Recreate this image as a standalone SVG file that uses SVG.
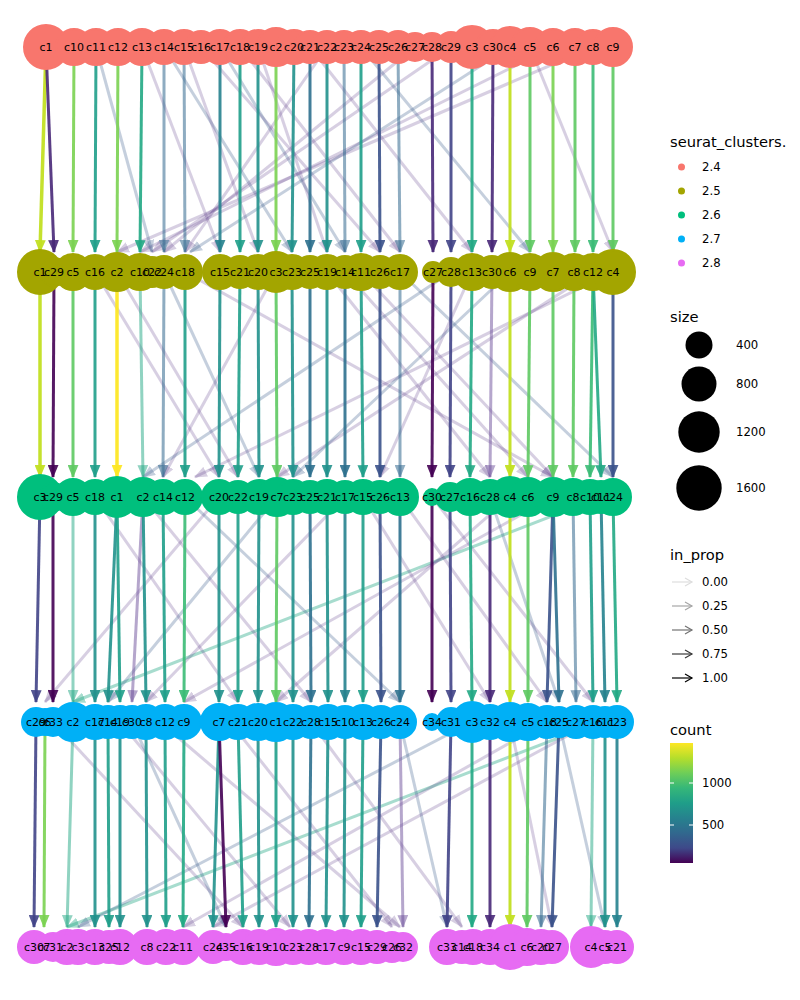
<svg xmlns="http://www.w3.org/2000/svg" width="800" height="1000" viewBox="0 0 800 1000">
<defs>
<style>
.e{fill:none;stroke-width:3}
.k1{stroke:#FDE725;stroke-opacity:.95;marker-end:url(#a1)}
.k2{stroke:#C2DF23;stroke-opacity:.95;marker-end:url(#a2)}
.k3{stroke:#7AD151;stroke-opacity:.9;marker-end:url(#a3)}
.k4{stroke:#5EC962;stroke-opacity:.9;marker-end:url(#a4)}
.k5{stroke:#3BBB75;stroke-opacity:.9;marker-end:url(#a5)}
.k6{stroke:#22A884;stroke-opacity:.9;marker-end:url(#a6)}
.k7{stroke:#1F9E89;stroke-opacity:.9;marker-end:url(#a7)}
.k8{stroke:#21918C;stroke-opacity:.9;marker-end:url(#a8)}
.k9{stroke:#26828E;stroke-opacity:.9;marker-end:url(#a9)}
.k10{stroke:#2D708E;stroke-opacity:.9;marker-end:url(#a10)}
.k11{stroke:#3B528B;stroke-opacity:.9;marker-end:url(#a11)}
.k12{stroke:#414487;stroke-opacity:.9;marker-end:url(#a12)}
.k13{stroke:#482878;stroke-opacity:.9;marker-end:url(#a13)}
.k14{stroke:#440154;stroke-opacity:.9;marker-end:url(#a14)}
.s1{stroke:#31688E;stroke-opacity:.55;marker-end:url(#b1)}
.s2{stroke:#6B4E99;stroke-opacity:.5;marker-end:url(#b2)}
.s3{stroke:#22A884;stroke-opacity:.5;marker-end:url(#b3)}
.f1{stroke:#5E3F8C;stroke-opacity:.25;marker-end:url(#c1)}
.f2{stroke:#3F5F90;stroke-opacity:.3;marker-end:url(#c2)}
.f3{stroke:#22A884;stroke-opacity:.4;marker-end:url(#c3)}
.r1{fill:#F8766D;stroke:#F8766D;stroke-width:2}
.r2{fill:#A3A500;stroke:#A3A500;stroke-width:2}
.r3{fill:#00BF7D;stroke:#00BF7D;stroke-width:2}
.r4{fill:#00B0F6;stroke:#00B0F6;stroke-width:2}
.r5{fill:#E76BF3;stroke:#E76BF3;stroke-width:2}
.lb{font-family:"DejaVu Sans","Liberation Sans",sans-serif;font-size:11px;fill:#000;text-anchor:middle}
.lt{font-family:"DejaVu Sans","Liberation Sans",sans-serif;font-size:14.7px;fill:#000}
.ll{font-family:"DejaVu Sans","Liberation Sans",sans-serif;font-size:11.7px;fill:#000}
.la{fill:none;stroke-width:1.2}
</style>
<marker id="a1" viewBox="0 0 12 10" refX="11" refY="5" markerWidth="13" markerHeight="11" markerUnits="userSpaceOnUse" orient="auto"><path d="M0,0L12,5L0,10z" fill="#FDE725" fill-opacity=".95"/></marker>
<marker id="a2" viewBox="0 0 12 10" refX="11" refY="5" markerWidth="13" markerHeight="11" markerUnits="userSpaceOnUse" orient="auto"><path d="M0,0L12,5L0,10z" fill="#C2DF23" fill-opacity=".95"/></marker>
<marker id="a3" viewBox="0 0 12 10" refX="11" refY="5" markerWidth="13" markerHeight="11" markerUnits="userSpaceOnUse" orient="auto"><path d="M0,0L12,5L0,10z" fill="#7AD151" fill-opacity=".9"/></marker>
<marker id="a4" viewBox="0 0 12 10" refX="11" refY="5" markerWidth="13" markerHeight="11" markerUnits="userSpaceOnUse" orient="auto"><path d="M0,0L12,5L0,10z" fill="#5EC962" fill-opacity=".9"/></marker>
<marker id="a5" viewBox="0 0 12 10" refX="11" refY="5" markerWidth="13" markerHeight="11" markerUnits="userSpaceOnUse" orient="auto"><path d="M0,0L12,5L0,10z" fill="#3BBB75" fill-opacity=".9"/></marker>
<marker id="a6" viewBox="0 0 12 10" refX="11" refY="5" markerWidth="13" markerHeight="11" markerUnits="userSpaceOnUse" orient="auto"><path d="M0,0L12,5L0,10z" fill="#22A884" fill-opacity=".9"/></marker>
<marker id="a7" viewBox="0 0 12 10" refX="11" refY="5" markerWidth="13" markerHeight="11" markerUnits="userSpaceOnUse" orient="auto"><path d="M0,0L12,5L0,10z" fill="#1F9E89" fill-opacity=".9"/></marker>
<marker id="a8" viewBox="0 0 12 10" refX="11" refY="5" markerWidth="13" markerHeight="11" markerUnits="userSpaceOnUse" orient="auto"><path d="M0,0L12,5L0,10z" fill="#21918C" fill-opacity=".9"/></marker>
<marker id="a9" viewBox="0 0 12 10" refX="11" refY="5" markerWidth="13" markerHeight="11" markerUnits="userSpaceOnUse" orient="auto"><path d="M0,0L12,5L0,10z" fill="#26828E" fill-opacity=".9"/></marker>
<marker id="a10" viewBox="0 0 12 10" refX="11" refY="5" markerWidth="13" markerHeight="11" markerUnits="userSpaceOnUse" orient="auto"><path d="M0,0L12,5L0,10z" fill="#2D708E" fill-opacity=".9"/></marker>
<marker id="a11" viewBox="0 0 12 10" refX="11" refY="5" markerWidth="13" markerHeight="11" markerUnits="userSpaceOnUse" orient="auto"><path d="M0,0L12,5L0,10z" fill="#3B528B" fill-opacity=".9"/></marker>
<marker id="a12" viewBox="0 0 12 10" refX="11" refY="5" markerWidth="13" markerHeight="11" markerUnits="userSpaceOnUse" orient="auto"><path d="M0,0L12,5L0,10z" fill="#414487" fill-opacity=".9"/></marker>
<marker id="a13" viewBox="0 0 12 10" refX="11" refY="5" markerWidth="13" markerHeight="11" markerUnits="userSpaceOnUse" orient="auto"><path d="M0,0L12,5L0,10z" fill="#482878" fill-opacity=".9"/></marker>
<marker id="a14" viewBox="0 0 12 10" refX="11" refY="5" markerWidth="13" markerHeight="11" markerUnits="userSpaceOnUse" orient="auto"><path d="M0,0L12,5L0,10z" fill="#440154" fill-opacity=".9"/></marker>
<marker id="b1" viewBox="0 0 12 10" refX="11" refY="5" markerWidth="13" markerHeight="11" markerUnits="userSpaceOnUse" orient="auto"><path d="M0,0L12,5L0,10z" fill="#31688E" fill-opacity=".55"/></marker>
<marker id="b2" viewBox="0 0 12 10" refX="11" refY="5" markerWidth="13" markerHeight="11" markerUnits="userSpaceOnUse" orient="auto"><path d="M0,0L12,5L0,10z" fill="#6B4E99" fill-opacity=".5"/></marker>
<marker id="b3" viewBox="0 0 12 10" refX="11" refY="5" markerWidth="13" markerHeight="11" markerUnits="userSpaceOnUse" orient="auto"><path d="M0,0L12,5L0,10z" fill="#22A884" fill-opacity=".5"/></marker>
<marker id="c1" viewBox="0 0 12 10" refX="11" refY="5" markerWidth="13" markerHeight="11" markerUnits="userSpaceOnUse" orient="auto"><path d="M0,0L12,5L0,10z" fill="#5E3F8C" fill-opacity=".25"/></marker>
<marker id="c2" viewBox="0 0 12 10" refX="11" refY="5" markerWidth="13" markerHeight="11" markerUnits="userSpaceOnUse" orient="auto"><path d="M0,0L12,5L0,10z" fill="#3F5F90" fill-opacity=".3"/></marker>
<marker id="c3" viewBox="0 0 12 10" refX="11" refY="5" markerWidth="13" markerHeight="11" markerUnits="userSpaceOnUse" orient="auto"><path d="M0,0L12,5L0,10z" fill="#22A884" fill-opacity=".4"/></marker>
<linearGradient id="vir" x1="0" y1="0" x2="0" y2="1">
<stop offset="0" stop-color="#FDE725"/><stop offset=".125" stop-color="#B5DE2B"/><stop offset=".25" stop-color="#6ECE58"/><stop offset=".375" stop-color="#35B779"/><stop offset=".5" stop-color="#1F9E89"/><stop offset=".625" stop-color="#26828E"/><stop offset=".75" stop-color="#31688E"/><stop offset=".875" stop-color="#3E4989"/><stop offset="1" stop-color="#440154"/>
</linearGradient>
</defs>
<rect width="800" height="1000" fill="#fff"/>
<g id="connectors">
<g id="band1">
<line class="e f1" x1="201" y1="47" x2="380" y2="252"/><line class="e f2" x1="164" y1="47" x2="292" y2="252"/><line class="e f1" x1="184" y1="47" x2="258" y2="252"/><line class="e f2" x1="220" y1="47" x2="345" y2="252"/><line class="e f1" x1="240" y1="47" x2="400" y2="252"/><line class="e f1" x1="327" y1="47" x2="185" y2="252"/><line class="e f1" x1="415" y1="47" x2="164" y2="252"/><line class="e f1" x1="451" y1="47" x2="152" y2="252"/><line class="e f2" x1="510" y1="47" x2="190" y2="252"/><line class="e f1" x1="553" y1="47" x2="140" y2="252"/><line class="e f1" x1="593" y1="47" x2="117" y2="252"/><line class="e f1" x1="310" y1="47" x2="472" y2="252"/><line class="e f2" x1="361" y1="47" x2="530" y2="252"/><line class="e f1" x1="530" y1="47" x2="613" y2="252"/><line class="e f1" x1="142" y1="47" x2="220" y2="252"/><line class="e f2" x1="96" y1="47" x2="152" y2="252"/><line class="e f1" x1="258" y1="47" x2="327" y2="252"/>
<line class="e k2" style="stroke-width:3.5" x1="46" y1="47" x2="40" y2="252"/><line class="e k13" x1="46" y1="47" x2="54" y2="252"/><line class="e k3" x1="74" y1="47" x2="73" y2="252"/><line class="e k7" x1="96" y1="47" x2="95" y2="252"/><line class="e k3" x1="118" y1="47" x2="117" y2="252"/><line class="e k6" x1="142" y1="47" x2="140" y2="252"/><line class="e s1" x1="164" y1="47" x2="164" y2="252"/><line class="e s1" x1="184" y1="47" x2="185" y2="252"/><line class="e k9" x1="220" y1="47" x2="220" y2="252"/><line class="e k7" x1="240" y1="47" x2="240" y2="252"/><line class="e k8" x1="258" y1="47" x2="258" y2="252"/><line class="e k3" x1="276" y1="47" x2="276" y2="252"/><line class="e k8" x1="294" y1="47" x2="292" y2="252"/><line class="e k10" x1="310" y1="47" x2="310" y2="252"/><line class="e k8" x1="327" y1="47" x2="327" y2="252"/><line class="e s1" x1="344" y1="47" x2="345" y2="252"/><line class="e k7" x1="361" y1="47" x2="361" y2="252"/><line class="e k11" x1="379" y1="47" x2="380" y2="252"/><line class="e s1" x1="398" y1="47" x2="400" y2="252"/><line class="e k13" x1="432" y1="47" x2="433" y2="252"/><line class="e k12" x1="451" y1="47" x2="451" y2="252"/><line class="e k6" x1="472" y1="47" x2="472" y2="252"/><line class="e k13" x1="493" y1="47" x2="492" y2="252"/><line class="e k2" x1="510" y1="47" x2="510" y2="252"/><line class="e k4" x1="530" y1="47" x2="530" y2="252"/><line class="e k3" x1="553" y1="47" x2="553" y2="252"/><line class="e k4" x1="575" y1="47" x2="575" y2="252"/><line class="e k5" x1="593" y1="47" x2="593" y2="252"/><line class="e k4" x1="613" y1="47" x2="613" y2="252"/>
</g>
<g id="band2">
<line class="e f1" x1="185" y1="272" x2="553" y2="477"/><line class="e f2" x1="164" y1="272" x2="259" y2="477"/><line class="e f1" x1="95" y1="272" x2="219" y2="477"/><line class="e f1" x1="117" y1="272" x2="238" y2="477"/><line class="e f2" x1="400" y1="272" x2="613" y2="477"/><line class="e f1" x1="361" y1="272" x2="553" y2="477"/><line class="e f1" x1="613" y1="272" x2="195" y2="477"/><line class="e f1" x1="593" y1="272" x2="277" y2="477"/><line class="e f2" x1="510" y1="272" x2="293" y2="477"/><line class="e f1" x1="472" y1="272" x2="380" y2="477"/><line class="e f1" x1="276" y1="272" x2="163" y2="477"/><line class="e f1" x1="327" y1="272" x2="490" y2="477"/><line class="e f2" x1="451" y1="272" x2="143" y2="477"/><line class="e f1" x1="345" y1="272" x2="528" y2="477"/>
<line class="e k2" style="stroke-width:3.5" x1="40" y1="272" x2="40" y2="477"/><line class="e k14" x1="54" y1="272" x2="53" y2="477"/><line class="e k4" x1="73" y1="272" x2="73" y2="477"/><line class="e k7" x1="95" y1="272" x2="95" y2="477"/><line class="e k1" style="stroke-width:3.5" x1="117" y1="272" x2="117" y2="477"/><line class="e s3" x1="140" y1="272" x2="143" y2="477"/><line class="e s1" x1="164" y1="272" x2="163" y2="477"/><line class="e k7" x1="185" y1="272" x2="185" y2="477"/><line class="e k8" x1="220" y1="272" x2="219" y2="477"/><line class="e k7" x1="240" y1="272" x2="238" y2="477"/><line class="e k8" x1="258" y1="272" x2="259" y2="477"/><line class="e k4" x1="276" y1="272" x2="277" y2="477"/><line class="e k8" x1="292" y1="272" x2="293" y2="477"/><line class="e k10" x1="310" y1="272" x2="310" y2="477"/><line class="e k8" x1="327" y1="272" x2="327" y2="477"/><line class="e k10" x1="345" y1="272" x2="345" y2="477"/><line class="e k7" x1="361" y1="272" x2="363" y2="477"/><line class="e k11" x1="380" y1="272" x2="380" y2="477"/><line class="e s1" x1="400" y1="272" x2="400" y2="477"/><line class="e k14" x1="433" y1="272" x2="432" y2="477"/><line class="e k12" x1="451" y1="272" x2="450" y2="477"/><line class="e k6" x1="472" y1="272" x2="470" y2="477"/><line class="e s2" x1="492" y1="272" x2="490" y2="477"/><line class="e k2" x1="510" y1="272" x2="510" y2="477"/><line class="e k4" x1="530" y1="272" x2="528" y2="477"/><line class="e k4" x1="553" y1="272" x2="553" y2="477"/><line class="e k4" x1="574" y1="272" x2="573" y2="477"/><line class="e k5" x1="593" y1="272" x2="590" y2="477"/><line class="e k6" x1="593" y1="272" x2="601" y2="477"/><line class="e k11" x1="613" y1="272" x2="613" y2="477"/>
</g>
<g id="band3">
<line class="e f3" x1="601" y1="497" x2="73" y2="702"/><line class="e f1" x1="143" y1="497" x2="311" y2="702"/><line class="e f1" x1="95" y1="497" x2="238" y2="702"/><line class="e f2" x1="185" y1="497" x2="400" y2="702"/><line class="e f1" x1="400" y1="497" x2="547" y2="702"/><line class="e f1" x1="432" y1="497" x2="593" y2="702"/><line class="e f2" x1="490" y1="497" x2="559" y2="702"/><line class="e f1" x1="553" y1="497" x2="184" y2="702"/><line class="e f1" x1="510" y1="497" x2="276" y2="702"/><line class="e f1" x1="345" y1="497" x2="146" y2="702"/><line class="e f2" x1="277" y1="497" x2="108" y2="702"/><line class="e f1" x1="363" y1="497" x2="490" y2="702"/><line class="e f1" x1="219" y1="497" x2="45" y2="702"/>
<line class="e k12" x1="40" y1="497" x2="36" y2="702"/><line class="e k14" x1="53" y1="497" x2="53" y2="702"/><line class="e s3" x1="73" y1="497" x2="73" y2="702"/><line class="e k8" x1="95" y1="497" x2="95" y2="702"/><line class="e k8" x1="117" y1="497" x2="108" y2="702"/><line class="e k7" x1="117" y1="497" x2="120" y2="702"/><line class="e s2" x1="143" y1="497" x2="132" y2="702"/><line class="e k8" x1="143" y1="497" x2="146" y2="702"/><line class="e k7" x1="163" y1="497" x2="165" y2="702"/><line class="e k5" x1="185" y1="497" x2="184" y2="702"/><line class="e k8" x1="219" y1="497" x2="219" y2="702"/><line class="e k7" x1="238" y1="497" x2="238" y2="702"/><line class="e k8" x1="259" y1="497" x2="258" y2="702"/><line class="e k4" x1="277" y1="497" x2="276" y2="702"/><line class="e k8" x1="293" y1="497" x2="293" y2="702"/><line class="e k10" x1="310" y1="497" x2="311" y2="702"/><line class="e k8" x1="327" y1="497" x2="328" y2="702"/><line class="e k9" x1="345" y1="497" x2="345" y2="702"/><line class="e k7" x1="363" y1="497" x2="363" y2="702"/><line class="e k11" x1="380" y1="497" x2="381" y2="702"/><line class="e k10" x1="400" y1="497" x2="400" y2="702"/><line class="e k14" x1="432" y1="497" x2="432" y2="702"/><line class="e k12" x1="450" y1="497" x2="451" y2="702"/><line class="e k6" x1="470" y1="497" x2="472" y2="702"/><line class="e k13" x1="490" y1="497" x2="490" y2="702"/><line class="e k2" x1="510" y1="497" x2="510" y2="702"/><line class="e k4" x1="528" y1="497" x2="528" y2="702"/><line class="e k11" x1="553" y1="497" x2="547" y2="702"/><line class="e k10" x1="553" y1="497" x2="559" y2="702"/><line class="e s1" x1="573" y1="497" x2="576" y2="702"/><line class="e k7" x1="590" y1="497" x2="593" y2="702"/><line class="e k9" x1="601" y1="497" x2="605" y2="702"/><line class="e k6" x1="613" y1="497" x2="617" y2="702"/>
</g>
<g id="band4">
<line class="e f3" x1="600" y1="722" x2="67" y2="927"/><line class="e f1" x1="547" y1="722" x2="183" y2="927"/><line class="e f2" x1="472" y1="722" x2="78" y2="927"/><line class="e f1" x1="160" y1="722" x2="400" y2="927"/><line class="e f1" x1="230" y1="722" x2="392" y2="927"/><line class="e f1" x1="53" y1="722" x2="243" y2="927"/><line class="e f2" x1="400" y1="722" x2="447" y2="927"/><line class="e f1" x1="311" y1="722" x2="462" y2="927"/><line class="e f1" x1="510" y1="722" x2="552" y2="927"/><line class="e f2" x1="559" y1="722" x2="605" y2="927"/><line class="e f1" x1="593" y1="722" x2="213" y2="927"/><line class="e f1" x1="120" y1="722" x2="290" y2="927"/><line class="e f2" x1="132" y1="722" x2="226" y2="927"/>
<line class="e k12" x1="36" y1="722" x2="34" y2="927"/><line class="e k3" x1="45" y1="722" x2="44" y2="927"/><line class="e s3" x1="73" y1="722" x2="67" y2="927"/><line class="e k8" x1="95" y1="722" x2="95" y2="927"/><line class="e k7" x1="108" y1="722" x2="109" y2="927"/><line class="e k8" x1="120" y1="722" x2="120" y2="927"/><line class="e k8" x1="146" y1="722" x2="147" y2="927"/><line class="e k7" x1="165" y1="722" x2="166" y2="927"/><line class="e k6" x1="184" y1="722" x2="183" y2="927"/><line class="e k8" x1="219" y1="722" x2="213" y2="927"/><line class="e k14" x1="219" y1="722" x2="226" y2="927"/><line class="e k7" x1="238" y1="722" x2="243" y2="927"/><line class="e k8" x1="258" y1="722" x2="259" y2="927"/><line class="e k7" x1="276" y1="722" x2="276" y2="927"/><line class="e k8" x1="293" y1="722" x2="293" y2="927"/><line class="e k10" x1="311" y1="722" x2="309" y2="927"/><line class="e k8" x1="328" y1="722" x2="326" y2="927"/><line class="e k8" x1="345" y1="722" x2="344" y2="927"/><line class="e k7" x1="363" y1="722" x2="361" y2="927"/><line class="e k11" x1="381" y1="722" x2="377" y2="927"/><line class="e s2" x1="400" y1="722" x2="403" y2="927"/><line class="e k12" x1="451" y1="722" x2="447" y2="927"/><line class="e k6" x1="472" y1="722" x2="472" y2="927"/><line class="e k13" x1="490" y1="722" x2="490" y2="927"/><line class="e k2" x1="510" y1="722" x2="510" y2="927"/><line class="e k4" x1="528" y1="722" x2="527" y2="927"/><line class="e s1" x1="547" y1="722" x2="541" y2="927"/><line class="e k11" x1="559" y1="722" x2="552" y2="927"/><line class="e s3" x1="593" y1="722" x2="591" y2="927"/><line class="e k8" x1="605" y1="722" x2="605" y2="927"/><line class="e k9" x1="617" y1="722" x2="617" y2="927"/>
</g>
</g>
<g id="nodes">
<g id="row1" class="r1">
<g id="n1-c1"><circle cx="46" cy="47" r="22"/></g><g id="n1-c10"><circle cx="74" cy="47" r="18"/></g><g id="n1-c11"><circle cx="96" cy="47" r="18"/></g><g id="n1-c12"><circle cx="118" cy="47" r="18"/></g><g id="n1-c13"><circle cx="142" cy="47" r="18"/></g><g id="n1-c14"><circle cx="164" cy="47" r="17"/></g><g id="n1-c15"><circle cx="184" cy="47" r="17"/></g><g id="n1-c16"><circle cx="201" cy="47" r="16"/></g><g id="n1-c17"><circle cx="220" cy="47" r="17"/></g><g id="n1-c18"><circle cx="240" cy="47" r="17"/></g><g id="n1-c19"><circle cx="258" cy="47" r="17"/></g><g id="n1-c2"><circle cx="276" cy="47" r="19"/></g><g id="n1-c20"><circle cx="294" cy="47" r="17"/></g><g id="n1-c21"><circle cx="310" cy="47" r="16"/></g><g id="n1-c22"><circle cx="327" cy="47" r="16"/></g><g id="n1-c23"><circle cx="344" cy="47" r="16"/></g><g id="n1-c24"><circle cx="361" cy="47" r="16"/></g><g id="n1-c25"><circle cx="379" cy="47" r="16"/></g><g id="n1-c26"><circle cx="398" cy="47" r="16"/></g><g id="n1-c27"><circle cx="415" cy="47" r="14"/></g><g id="n1-c28"><circle cx="432" cy="47" r="14"/></g><g id="n1-c29"><circle cx="451" cy="47" r="15"/></g><g id="n1-c3"><circle cx="472" cy="47" r="21"/></g><g id="n1-c30"><circle cx="493" cy="47" r="17"/></g><g id="n1-c4"><circle cx="510" cy="47" r="20"/></g><g id="n1-c5"><circle cx="530" cy="47" r="19"/></g><g id="n1-c6"><circle cx="553" cy="47" r="18"/></g><g id="n1-c7"><circle cx="575" cy="47" r="18"/></g><g id="n1-c8"><circle cx="593" cy="47" r="17"/></g><g id="n1-c9"><circle cx="613" cy="47" r="19"/></g>
</g>
<g id="row2" class="r2">
<g id="n2-c1"><circle cx="40" cy="272" r="22"/></g><g id="n2-c29"><circle cx="54" cy="272" r="14"/></g><g id="n2-c5"><circle cx="73" cy="272" r="18"/></g><g id="n2-c16"><circle cx="95" cy="272" r="17"/></g><g id="n2-c2"><circle cx="117" cy="272" r="19"/></g><g id="n2-c10"><circle cx="140" cy="272" r="18"/></g><g id="n2-c22"><circle cx="152" cy="272" r="15"/></g><g id="n2-c24"><circle cx="164" cy="272" r="16"/></g><g id="n2-c18"><circle cx="185" cy="272" r="17"/></g><g id="n2-c15"><circle cx="220" cy="272" r="17"/></g><g id="n2-c21"><circle cx="240" cy="272" r="16"/></g><g id="n2-c20"><circle cx="258" cy="272" r="17"/></g><g id="n2-c3"><circle cx="276" cy="272" r="20"/></g><g id="n2-c23"><circle cx="292" cy="272" r="17"/></g><g id="n2-c25"><circle cx="310" cy="272" r="16"/></g><g id="n2-c19"><circle cx="327" cy="272" r="17"/></g><g id="n2-c14"><circle cx="345" cy="272" r="16"/></g><g id="n2-c11"><circle cx="361" cy="272" r="18"/></g><g id="n2-c26"><circle cx="380" cy="272" r="16"/></g><g id="n2-c17"><circle cx="400" cy="272" r="17"/></g><g id="n2-c27"><circle cx="433" cy="272" r="10"/></g><g id="n2-c28"><circle cx="451" cy="272" r="14"/></g><g id="n2-c13"><circle cx="472" cy="272" r="18"/></g><g id="n2-c30"><circle cx="492" cy="272" r="16"/></g><g id="n2-c6"><circle cx="510" cy="272" r="19"/></g><g id="n2-c9"><circle cx="530" cy="272" r="18"/></g><g id="n2-c7"><circle cx="553" cy="272" r="19"/></g><g id="n2-c8"><circle cx="574" cy="272" r="18"/></g><g id="n2-c12"><circle cx="593" cy="272" r="18"/></g><g id="n2-c4"><circle cx="613" cy="272" r="22"/></g>
</g>
<g id="row3" class="r3">
<g id="n3-c3"><circle cx="40" cy="497" r="22"/></g><g id="n3-c29"><circle cx="53" cy="497" r="14"/></g><g id="n3-c5"><circle cx="73" cy="497" r="18"/></g><g id="n3-c18"><circle cx="95" cy="497" r="17"/></g><g id="n3-c1"><circle cx="117" cy="497" r="20"/></g><g id="n3-c2"><circle cx="143" cy="497" r="19"/></g><g id="n3-c14"><circle cx="163" cy="497" r="17"/></g><g id="n3-c12"><circle cx="185" cy="497" r="17"/></g><g id="n3-c20"><circle cx="219" cy="497" r="17"/></g><g id="n3-c22"><circle cx="238" cy="497" r="16"/></g><g id="n3-c19"><circle cx="259" cy="497" r="17"/></g><g id="n3-c7"><circle cx="277" cy="497" r="19"/></g><g id="n3-c23"><circle cx="293" cy="497" r="17"/></g><g id="n3-c25"><circle cx="310" cy="497" r="16"/></g><g id="n3-c21"><circle cx="327" cy="497" r="17"/></g><g id="n3-c17"><circle cx="345" cy="497" r="16"/></g><g id="n3-c15"><circle cx="363" cy="497" r="17"/></g><g id="n3-c26"><circle cx="380" cy="497" r="16"/></g><g id="n3-c13"><circle cx="400" cy="497" r="18"/></g><g id="n3-c30"><circle cx="432" cy="497" r="8"/></g><g id="n3-c27"><circle cx="450" cy="497" r="14"/></g><g id="n3-c16"><circle cx="470" cy="497" r="18"/></g><g id="n3-c28"><circle cx="490" cy="497" r="17"/></g><g id="n3-c4"><circle cx="510" cy="497" r="20"/></g><g id="n3-c6"><circle cx="528" cy="497" r="19"/></g><g id="n3-c9"><circle cx="553" cy="497" r="19"/></g><g id="n3-c8"><circle cx="573" cy="497" r="18"/></g><g id="n3-c10"><circle cx="590" cy="497" r="17"/></g><g id="n3-c11"><circle cx="601" cy="497" r="16"/></g><g id="n3-c24"><circle cx="613" cy="497" r="18"/></g>
</g>
<g id="row4" class="r4">
<g id="n4-c29"><circle cx="36" cy="722" r="14"/></g><g id="n4-c6"><circle cx="45" cy="722" r="13"/></g><g id="n4-c33"><circle cx="53" cy="722" r="14"/></g><g id="n4-c2"><circle cx="73" cy="722" r="19"/></g><g id="n4-c17"><circle cx="95" cy="722" r="17"/></g><g id="n4-c14"><circle cx="108" cy="722" r="16"/></g><g id="n4-c19"><circle cx="120" cy="722" r="16"/></g><g id="n4-c30"><circle cx="132" cy="722" r="16"/></g><g id="n4-c8"><circle cx="146" cy="722" r="17"/></g><g id="n4-c12"><circle cx="165" cy="722" r="17"/></g><g id="n4-c9"><circle cx="184" cy="722" r="17"/></g><g id="n4-c7"><circle cx="219" cy="722" r="18"/></g><g id="n4-c21"><circle cx="238" cy="722" r="17"/></g><g id="n4-c20"><circle cx="258" cy="722" r="18"/></g><g id="n4-c1"><circle cx="276" cy="722" r="19"/></g><g id="n4-c22"><circle cx="293" cy="722" r="17"/></g><g id="n4-c28"><circle cx="311" cy="722" r="16"/></g><g id="n4-c15"><circle cx="328" cy="722" r="17"/></g><g id="n4-c10"><circle cx="345" cy="722" r="16"/></g><g id="n4-c13"><circle cx="363" cy="722" r="17"/></g><g id="n4-c26"><circle cx="381" cy="722" r="16"/></g><g id="n4-c24"><circle cx="400" cy="722" r="16"/></g><g id="n4-c34"><circle cx="432" cy="722" r="8"/></g><g id="n4-c31"><circle cx="451" cy="722" r="14"/></g><g id="n4-c3"><circle cx="472" cy="722" r="20"/></g><g id="n4-c32"><circle cx="490" cy="722" r="17"/></g><g id="n4-c4"><circle cx="510" cy="722" r="19"/></g><g id="n4-c5"><circle cx="528" cy="722" r="18"/></g><g id="n4-c18"><circle cx="547" cy="722" r="16"/></g><g id="n4-c25"><circle cx="559" cy="722" r="15"/></g><g id="n4-c27"><circle cx="576" cy="722" r="16"/></g><g id="n4-c16"><circle cx="593" cy="722" r="16"/></g><g id="n4-c11"><circle cx="605" cy="722" r="15"/></g><g id="n4-c23"><circle cx="617" cy="722" r="16"/></g>
</g>
<g id="row5" class="r5">
<g id="n5-c30"><circle cx="34" cy="947" r="16"/></g><g id="n5-c7"><circle cx="44" cy="947" r="12"/></g><g id="n5-c31"><circle cx="53" cy="947" r="14"/></g><g id="n5-c2"><circle cx="67" cy="947" r="17"/></g><g id="n5-c3"><circle cx="78" cy="947" r="17"/></g><g id="n5-c13"><circle cx="95" cy="947" r="17"/></g><g id="n5-c25"><circle cx="109" cy="947" r="16"/></g><g id="n5-c12"><circle cx="120" cy="947" r="17"/></g><g id="n5-c8"><circle cx="147" cy="947" r="17"/></g><g id="n5-c22"><circle cx="166" cy="947" r="17"/></g><g id="n5-c11"><circle cx="183" cy="947" r="17"/></g><g id="n5-c24"><circle cx="213" cy="947" r="16"/></g><g id="n5-c35"><circle cx="226" cy="947" r="13"/></g><g id="n5-c16"><circle cx="243" cy="947" r="17"/></g><g id="n5-c19"><circle cx="259" cy="947" r="17"/></g><g id="n5-c10"><circle cx="276" cy="947" r="18"/></g><g id="n5-c23"><circle cx="293" cy="947" r="17"/></g><g id="n5-c28"><circle cx="309" cy="947" r="17"/></g><g id="n5-c17"><circle cx="326" cy="947" r="17"/></g><g id="n5-c9"><circle cx="344" cy="947" r="17"/></g><g id="n5-c15"><circle cx="361" cy="947" r="17"/></g><g id="n5-c29"><circle cx="377" cy="947" r="16"/></g><g id="n5-c26"><circle cx="392" cy="947" r="15"/></g><g id="n5-c32"><circle cx="403" cy="947" r="14"/></g><g id="n5-c33"><circle cx="447" cy="947" r="17"/></g><g id="n5-c14"><circle cx="462" cy="947" r="16"/></g><g id="n5-c18"><circle cx="473" cy="947" r="17"/></g><g id="n5-c34"><circle cx="490" cy="947" r="17"/></g><g id="n5-c1"><circle cx="510" cy="947" r="22"/></g><g id="n5-c6"><circle cx="527" cy="947" r="18"/></g><g id="n5-c20"><circle cx="541" cy="947" r="17"/></g><g id="n5-c27"><circle cx="552" cy="947" r="16"/></g><g id="n5-c4"><circle cx="591" cy="947" r="20"/></g><g id="n5-c5"><circle cx="605" cy="947" r="16"/></g><g id="n5-c21"><circle cx="617" cy="947" r="16"/></g>
</g>
</g>
<g id="labels" class="lb">
<g id="lab1"><text x="46" y="51">c1</text><text x="74" y="51">c10</text><text x="96" y="51">c11</text><text x="118" y="51">c12</text><text x="142" y="51">c13</text><text x="164" y="51">c14</text><text x="184" y="51">c15</text><text x="201" y="51">c16</text><text x="220" y="51">c17</text><text x="240" y="51">c18</text><text x="258" y="51">c19</text><text x="276" y="51">c2</text><text x="294" y="51">c20</text><text x="310" y="51">c21</text><text x="327" y="51">c22</text><text x="344" y="51">c23</text><text x="361" y="51">c24</text><text x="379" y="51">c25</text><text x="398" y="51">c26</text><text x="415" y="51">c27</text><text x="432" y="51">c28</text><text x="451" y="51">c29</text><text x="472" y="51">c3</text><text x="493" y="51">c30</text><text x="510" y="51">c4</text><text x="530" y="51">c5</text><text x="553" y="51">c6</text><text x="575" y="51">c7</text><text x="593" y="51">c8</text><text x="613" y="51">c9</text></g>
<g id="lab2"><text x="40" y="276">c1</text><text x="54" y="276">c29</text><text x="73" y="276">c5</text><text x="95" y="276">c16</text><text x="117" y="276">c2</text><text x="140" y="276">c10</text><text x="152" y="276">c22</text><text x="164" y="276">c24</text><text x="185" y="276">c18</text><text x="220" y="276">c15</text><text x="240" y="276">c21</text><text x="258" y="276">c20</text><text x="276" y="276">c3</text><text x="292" y="276">c23</text><text x="310" y="276">c25</text><text x="327" y="276">c19</text><text x="345" y="276">c14</text><text x="361" y="276">c11</text><text x="380" y="276">c26</text><text x="400" y="276">c17</text><text x="433" y="276">c27</text><text x="451" y="276">c28</text><text x="472" y="276">c13</text><text x="492" y="276">c30</text><text x="510" y="276">c6</text><text x="530" y="276">c9</text><text x="553" y="276">c7</text><text x="574" y="276">c8</text><text x="593" y="276">c12</text><text x="613" y="276">c4</text></g>
<g id="lab3"><text x="40" y="501">c3</text><text x="53" y="501">c29</text><text x="73" y="501">c5</text><text x="95" y="501">c18</text><text x="117" y="501">c1</text><text x="143" y="501">c2</text><text x="163" y="501">c14</text><text x="185" y="501">c12</text><text x="219" y="501">c20</text><text x="238" y="501">c22</text><text x="259" y="501">c19</text><text x="277" y="501">c7</text><text x="293" y="501">c23</text><text x="310" y="501">c25</text><text x="327" y="501">c21</text><text x="345" y="501">c17</text><text x="363" y="501">c15</text><text x="380" y="501">c26</text><text x="400" y="501">c13</text><text x="432" y="501">c30</text><text x="450" y="501">c27</text><text x="470" y="501">c16</text><text x="490" y="501">c28</text><text x="510" y="501">c4</text><text x="528" y="501">c6</text><text x="553" y="501">c9</text><text x="573" y="501">c8</text><text x="590" y="501">c10</text><text x="601" y="501">c11</text><text x="613" y="501">c24</text></g>
<g id="lab4"><text x="36" y="726">c29</text><text x="45" y="726">c6</text><text x="53" y="726">c33</text><text x="73" y="726">c2</text><text x="95" y="726">c17</text><text x="108" y="726">c14</text><text x="120" y="726">c19</text><text x="132" y="726">c30</text><text x="146" y="726">c8</text><text x="165" y="726">c12</text><text x="184" y="726">c9</text><text x="219" y="726">c7</text><text x="238" y="726">c21</text><text x="258" y="726">c20</text><text x="276" y="726">c1</text><text x="293" y="726">c22</text><text x="311" y="726">c28</text><text x="328" y="726">c15</text><text x="345" y="726">c10</text><text x="363" y="726">c13</text><text x="381" y="726">c26</text><text x="400" y="726">c24</text><text x="432" y="726">c34</text><text x="451" y="726">c31</text><text x="472" y="726">c3</text><text x="490" y="726">c32</text><text x="510" y="726">c4</text><text x="528" y="726">c5</text><text x="547" y="726">c18</text><text x="559" y="726">c25</text><text x="576" y="726">c27</text><text x="593" y="726">c16</text><text x="605" y="726">c11</text><text x="617" y="726">c23</text></g>
<g id="lab5"><text x="34" y="951">c30</text><text x="44" y="951">c7</text><text x="53" y="951">c31</text><text x="67" y="951">c2</text><text x="78" y="951">c3</text><text x="95" y="951">c13</text><text x="109" y="951">c25</text><text x="120" y="951">c12</text><text x="147" y="951">c8</text><text x="166" y="951">c22</text><text x="183" y="951">c11</text><text x="213" y="951">c24</text><text x="226" y="951">c35</text><text x="243" y="951">c16</text><text x="259" y="951">c19</text><text x="276" y="951">c10</text><text x="293" y="951">c23</text><text x="309" y="951">c28</text><text x="326" y="951">c17</text><text x="344" y="951">c9</text><text x="361" y="951">c15</text><text x="377" y="951">c29</text><text x="392" y="951">c26</text><text x="403" y="951">c32</text><text x="447" y="951">c33</text><text x="462" y="951">c14</text><text x="473" y="951">c18</text><text x="490" y="951">c34</text><text x="510" y="951">c1</text><text x="527" y="951">c6</text><text x="541" y="951">c20</text><text x="552" y="951">c27</text><text x="591" y="951">c4</text><text x="605" y="951">c5</text><text x="617" y="951">c21</text></g>
</g>
<g id="legend">
<g id="leg-clusters">
<text class="lt" x="670" y="147">seurat_clusters.</text>
<circle cx="681.5" cy="167" r="3.5" fill="#F8766D"/><circle cx="681.5" cy="191" r="3.5" fill="#A3A500"/><circle cx="681.5" cy="215" r="3.5" fill="#00BF7D"/><circle cx="681.5" cy="239" r="3.5" fill="#00B0F6"/><circle cx="681.5" cy="263" r="3.5" fill="#E76BF3"/>
<text class="ll" x="702" y="171">2.4</text><text class="ll" x="702" y="195">2.5</text><text class="ll" x="702" y="219">2.6</text><text class="ll" x="702" y="243">2.7</text><text class="ll" x="702" y="267">2.8</text>
</g>
<g id="leg-size">
<text class="lt" x="670" y="322">size</text>
<circle cx="699" cy="345" r="13.5"/><circle cx="699" cy="384" r="17.5"/><circle cx="699" cy="432" r="20.7"/><circle cx="699" cy="488" r="22.7"/>
<text class="ll" x="736" y="349">400</text><text class="ll" x="736" y="388">800</text><text class="ll" x="736" y="436">1200</text><text class="ll" x="736" y="492">1600</text>
</g>
<g id="leg-inprop">
<text class="lt" x="670" y="560">in_prop</text>
<g class="la" stroke="#DDDDDD"><line x1="672" y1="582" x2="692" y2="582"/><polyline points="685,578 692,582 685,586"/></g>
<g class="la" stroke="#A6A6A6"><line x1="672" y1="606" x2="692" y2="606"/><polyline points="685,602 692,606 685,610"/></g>
<g class="la" stroke="#737373"><line x1="672" y1="630" x2="692" y2="630"/><polyline points="685,626 692,630 685,634"/></g>
<g class="la" stroke="#3A3A3A"><line x1="672" y1="654" x2="692" y2="654"/><polyline points="685,650 692,654 685,658"/></g>
<g class="la" stroke="#000000"><line x1="672" y1="678" x2="692" y2="678"/><polyline points="685,674 692,678 685,682"/></g>
<text class="ll" x="702" y="586">0.00</text><text class="ll" x="702" y="610">0.25</text><text class="ll" x="702" y="634">0.50</text><text class="ll" x="702" y="658">0.75</text><text class="ll" x="702" y="682">1.00</text>
</g>
<g id="leg-count">
<text class="lt" x="670" y="735">count</text>
<rect x="670" y="743" width="23" height="120" fill="url(#vir)"/>
<g stroke="#fff" stroke-width="1"><line x1="670" y1="783" x2="674" y2="783"/><line x1="689" y1="783" x2="693" y2="783"/><line x1="670" y1="825" x2="674" y2="825"/><line x1="689" y1="825" x2="693" y2="825"/></g>
<text class="ll" x="702" y="787">1000</text><text class="ll" x="702" y="829">500</text>
</g>
</g>
</svg>
